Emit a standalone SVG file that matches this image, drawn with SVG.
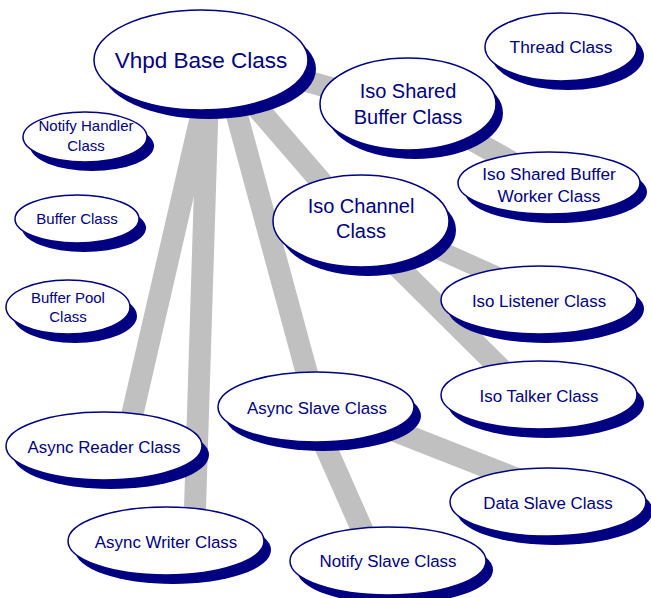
<svg xmlns="http://www.w3.org/2000/svg" width="651" height="598" viewBox="0 0 651 598">
<style>
.sh{fill:#000080}
.nd{fill:#fff;stroke:#000080;stroke-width:1.5}
text{font-family:"Liberation Sans",Arial,sans-serif;fill:#000080;text-anchor:middle}
.e{stroke:#c0c0c0;stroke-width:22;fill:none}
.s{font-size:15px}
.m{font-size:16.9px}
.l{font-size:20px}
</style>
<rect width="651" height="598" fill="#fff"/>
<g id="connectors">
<line class="e" x1="215" y1="55" x2="408" y2="110"/>
<line class="e" x1="408" y1="104" x2="549" y2="183"/>
<line class="e" x1="216" y1="60" x2="355" y2="221"/>
<line class="e" x1="361" y1="215" x2="539" y2="295" style="stroke-width:19"/>
<line class="e" x1="352" y1="221" x2="527" y2="395"/>
<line class="e" x1="222" y1="60" x2="316" y2="407"/>
<line class="e" x1="308" y1="407" x2="376" y2="561"/>
<line class="e" x1="316" y1="400" x2="548" y2="491"/>
<line class="e" x1="214" y1="60" x2="125" y2="446"/>
<line class="e" x1="209" y1="60" x2="194" y2="541"/>
</g>
<g id="vhpd"><ellipse class="sh" cx="209" cy="69" rx="107" ry="50"/><ellipse class="nd" cx="201" cy="60" rx="107" ry="50"/><text x="201" y="68" style="font-size:22.5px">Vhpd Base Class</text></g>
<g id="thread"><ellipse class="sh" cx="568" cy="56" rx="76" ry="34"/><ellipse class="nd" cx="561" cy="47" rx="76" ry="34"/><text class="m" x="561" y="53" style="font-size:17.3px">Thread Class</text></g>
<g id="notifyhandler"><ellipse class="sh" cx="92" cy="146" rx="62" ry="25"/><ellipse class="nd" cx="85" cy="137" rx="62" ry="25"/><text class="s" x="86" y="131">Notify Handler</text><text class="s" x="86" y="151">Class</text></g>
<g id="buffer"><ellipse class="sh" cx="84" cy="228" rx="62" ry="24"/><ellipse class="nd" cx="77" cy="219" rx="62" ry="24"/><text class="s" x="77" y="224">Buffer Class</text></g>
<g id="bufferpool"><ellipse class="sh" cx="75" cy="316" rx="62" ry="27"/><ellipse class="nd" cx="68" cy="307" rx="62" ry="27"/><text class="s" x="68" y="303">Buffer Pool</text><text class="s" x="68" y="322">Class</text></g>
<g id="isoshared"><ellipse class="sh" cx="415" cy="113" rx="88" ry="46"/><ellipse class="nd" cx="408" cy="104" rx="88" ry="46"/><text class="l" x="408" y="98">Iso Shared</text><text class="l" x="408" y="124">Buffer Class</text></g>
<g id="isoworker"><ellipse class="sh" cx="556" cy="192" rx="91" ry="31"/><ellipse class="nd" cx="549" cy="183" rx="91" ry="31"/><text class="m" x="549" y="180" style="font-size:17.2px">Iso Shared Buffer</text><text class="m" x="549" y="202" style="font-size:17.2px">Worker Class</text></g>
<g id="isochannel"><ellipse class="sh" cx="368" cy="230" rx="88" ry="46"/><ellipse class="nd" cx="361" cy="221" rx="88" ry="46"/><text class="l" x="361" y="213">Iso Channel</text><text class="l" x="361" y="238">Class</text></g>
<g id="isolistener"><ellipse class="sh" cx="546" cy="309" rx="98" ry="34"/><ellipse class="nd" cx="539" cy="300" rx="98" ry="34"/><text class="m" x="539" y="307">Iso Listener Class</text></g>
<g id="isotalker"><ellipse class="sh" cx="546" cy="404" rx="98" ry="34"/><ellipse class="nd" cx="539" cy="395" rx="98" ry="34"/><text class="m" x="539" y="402">Iso Talker Class</text></g>
<g id="asyncslave"><ellipse class="sh" cx="323" cy="416" rx="98" ry="35"/><ellipse class="nd" cx="316" cy="407" rx="98" ry="35"/><text class="m" x="317" y="414">Async Slave Class</text></g>
<g id="asyncreader"><ellipse class="sh" cx="111" cy="455" rx="98" ry="34"/><ellipse class="nd" cx="104" cy="446" rx="98" ry="34"/><text class="m" x="104" y="453">Async Reader Class</text></g>
<g id="dataslave"><ellipse class="sh" cx="555" cy="511" rx="98" ry="34"/><ellipse class="nd" cx="548" cy="502" rx="98" ry="34"/><text class="m" x="548" y="509">Data Slave Class</text></g>
<g id="asyncwriter"><ellipse class="sh" cx="173" cy="550" rx="98" ry="34"/><ellipse class="nd" cx="166" cy="541" rx="98" ry="34"/><text class="m" x="166" y="548">Async Writer Class</text></g>
<g id="notifyslave"><ellipse class="sh" cx="395" cy="570" rx="98" ry="34"/><ellipse class="nd" cx="388" cy="561" rx="98" ry="34"/><text class="m" x="388" y="567">Notify Slave Class</text></g>
</svg>
